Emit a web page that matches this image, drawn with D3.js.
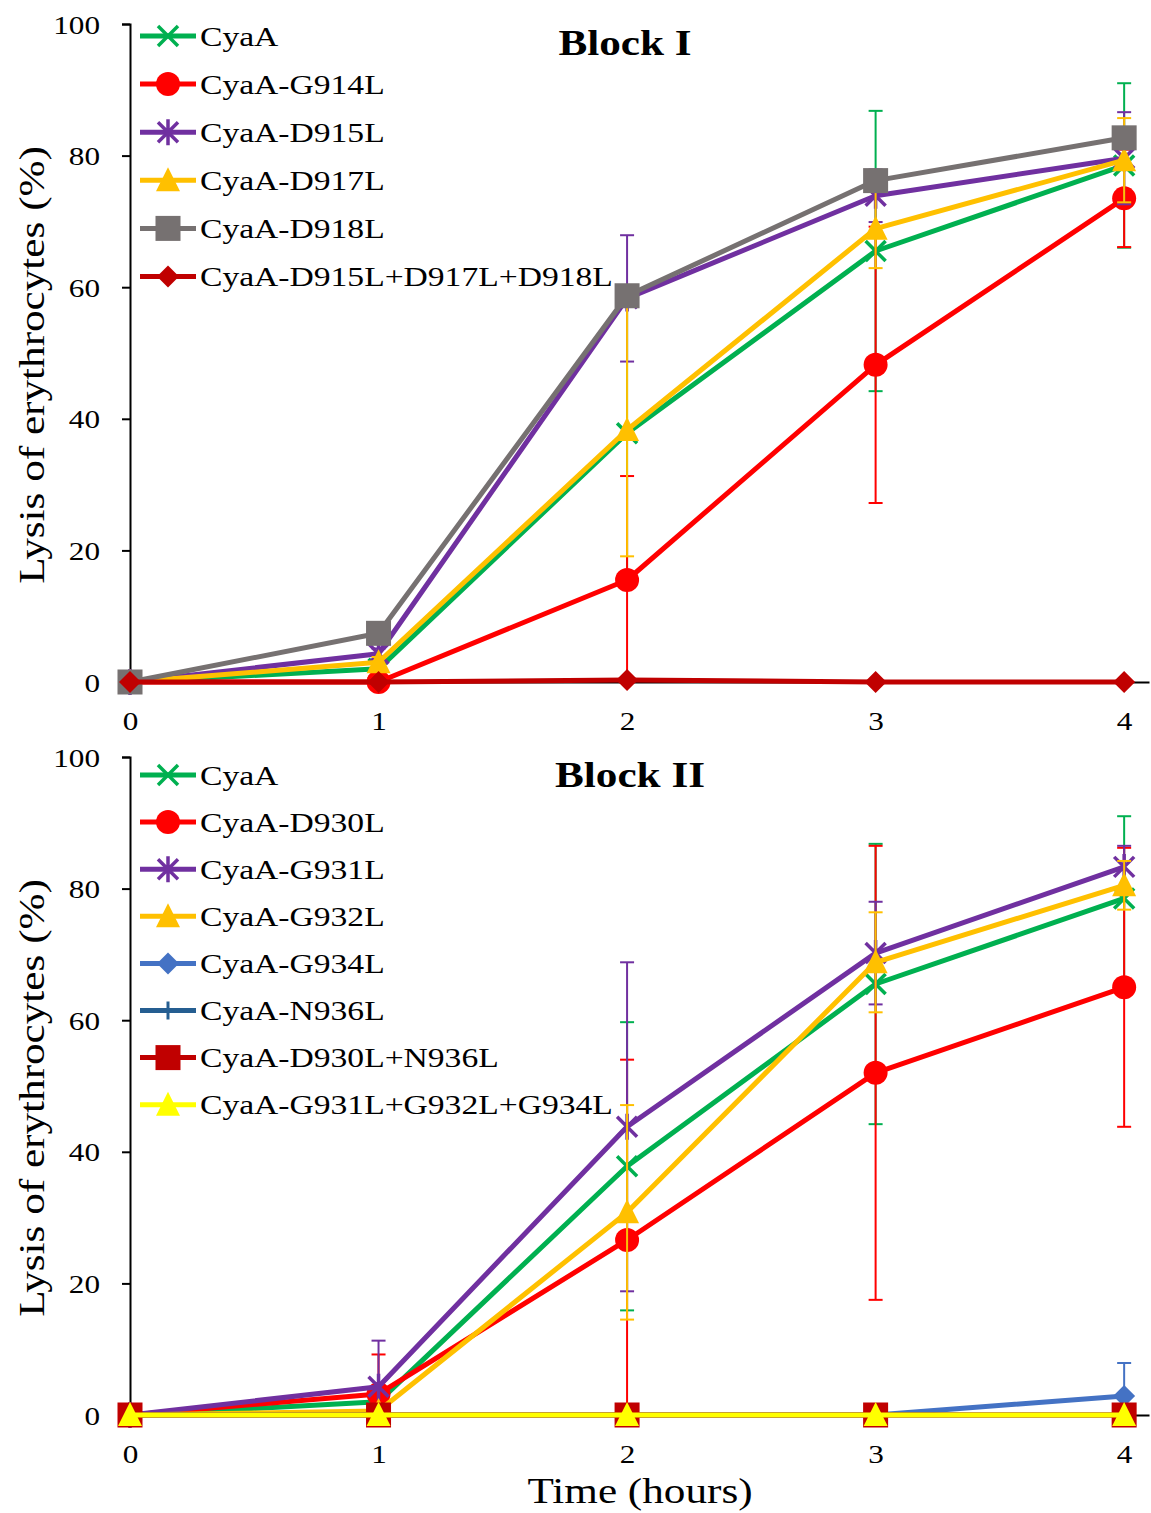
<!DOCTYPE html>
<html>
<head>
<meta charset="utf-8">
<script src="https://cdn.jsdelivr.net/npm/d3@7"></script>
<style>
  html, body { margin: 0; padding: 0; background: #fff; }
  svg { display: block; }
  text { font-family: "Liberation Serif", "Times New Roman", serif; fill: #000; }
</style>
</head>
<body>
<svg id="chart" width="1151" height="1513"></svg>
<script>
// ---- data ----------------------------------------------------------------
const hours = [0, 1, 2, 3, 4];
const yTicks = [0, 20, 40, 60, 80, 100];
const xTicks = [0, 1, 2, 3, 4];

// Block I (mean lysis %, standard deviation)
const blockINames = ["CyaA", "CyaA-G914L", "CyaA-D915L", "CyaA-D917L", "CyaA-D918L", "CyaA-D915L+D917L+D918L"];
const cyaA        = [0, 2.0, 37.8, 65.5, 78.5];
const cyaA_sd     = [0, 0.5, 21.9, 21.3, 12.5];
const g914l       = [0, 0.0, 15.5, 48.2, 73.5];
const g914l_sd    = [0, 0.0, 15.8, 21.0, 7.4];
const d915l       = [0, 4.3, 58.3, 73.9, 79.6];
const d915l_sd    = [0, 0.8, 9.6, 4.0, 7.0];
const d917l       = [0, 3.0, 38.3, 68.9, 79.3];
const d917l_sd    = [0, 0.8, 19.2, 6.0, 6.4];
const d918l       = [0, 7.4, 58.7, 76.2, 82.7];
const d918l_sd    = [0, 1.0, 1.5, 1.5, 1.5];
const d915_917_918 = [0, 0.0, 0.3, 0.0, 0.0];
const d915_917_918_sd = [0, 0, 0, 0, 0];

// Block II
const blockIINames = ["CyaA", "CyaA-D930L", "CyaA-G931L", "CyaA-G932L", "CyaA-G934L", "CyaA-N936L", "CyaA-D930L+N936L", "CyaA-G931L+G932L+G934L"];
const d930l       = [0, 3.2, 26.6, 52.0, 65.0];
const d930l_sd    = [0, 6.0, 27.4, 34.5, 21.2];
const g931l       = [0, 4.3, 43.8, 70.2, 83.3];
const g931l_sd    = [0, 7.0, 25.0, 7.8, 3.2];
const g932l       = [0, 0.6, 30.8, 68.8, 80.5];
const g932l_sd    = [0, 0.5, 16.3, 7.6, 3.7];
const g934l       = [0, 0, 0, 0, 2.9];
const g934l_sd    = [0, 0, 0, 0, 5.0];
const n936l       = [0, 0, 0, 0, 0];
const n936l_sd    = [0, 0, 0, 0, 0];
const d930_n936   = [0, 0, 0, 0, 0];
const d930_n936_sd = [0, 0, 0, 0, 0];
const g931_932_934 = [0, 0, 0, 0, 0];
const g931_932_934_sd = [0, 0, 0, 0, 0];

// ---- styling ---------------------------------------------------------------
const C = {
  green: "#00B050", red: "#FF0000", purple: "#7030A0", gold: "#FFC000",
  grey: "#767171", darkRed: "#C00000", blue: "#4472C4", navy: "#255E91", yellow: "#FFFF00"
};
const STRETCH = 1.2;

const panels = [
  {
    title: "Block I", titleX: 625, titleY: 55,
    top: 24, bottom: 682, legendY0: 36, legendStep: 48.1,
    series: [
      { name: blockINames[0], v: cyaA,  sd: cyaA_sd,  color: C.green,   marker: "x" },
      { name: blockINames[1], v: g914l, sd: g914l_sd, color: C.red,     marker: "circle" },
      { name: blockINames[2], v: d915l, sd: d915l_sd, color: C.purple,  marker: "star" },
      { name: blockINames[3], v: d917l, sd: d917l_sd, color: C.gold,    marker: "triangle" },
      { name: blockINames[4], v: d918l, sd: d918l_sd, color: C.grey,    marker: "square" },
      { name: blockINames[5], v: d915_917_918, sd: d915_917_918_sd, color: C.darkRed, marker: "diamond" }
    ]
  },
  {
    title: "Block II", titleX: 630, titleY: 787,
    top: 757, bottom: 1415, legendY0: 775, legendStep: 47.1,
    series: [
      { name: blockIINames[0], v: cyaA,  sd: cyaA_sd,  color: C.green,  marker: "x" },
      { name: blockIINames[1], v: d930l, sd: d930l_sd, color: C.red,    marker: "circle" },
      { name: blockIINames[2], v: g931l, sd: g931l_sd, color: C.purple, marker: "star" },
      { name: blockIINames[3], v: g932l, sd: g932l_sd, color: C.gold,   marker: "triangle" },
      { name: blockIINames[4], v: g934l, sd: g934l_sd, color: C.blue,   marker: "diamond" },
      { name: blockIINames[5], v: n936l, sd: n936l_sd, color: C.navy,   marker: "plus" },
      { name: blockIINames[6], v: d930_n936, sd: d930_n936_sd, color: C.darkRed, marker: "square" },
      { name: blockIINames[7], v: g931_932_934, sd: g931_932_934_sd, color: C.yellow, marker: "triangle" }
    ]
  }
];

const svg = d3.select("#chart");
const x = d3.scaleLinear().domain([0, 4.1]).range([130, 1149]);

function stretchedText(g, px, py, str, size, anchor, weight) {
  return g.append("text")
    .attr("transform", `translate(${px},${py}) scale(${STRETCH},1)`)
    .attr("text-anchor", anchor || "start")
    .style("font-size", size + "px")
    .style("font-weight", weight || "normal")
    .text(str);
}

function drawMarker(g, type, color, cx, cy) {
  const m = g.append("g").attr("transform", `translate(${cx},${cy})`);
  if (type === "circle") {
    m.append("circle").attr("r", 12).attr("fill", color);
  } else if (type === "square") {
    m.append("rect").attr("x", -12.5).attr("y", -12.5).attr("width", 25).attr("height", 25)
      .attr("fill", color);
  } else if (type === "diamond") {
    m.append("path").attr("d", "M0,-11 L11,0 L0,11 L-11,0Z").attr("fill", color);
  } else if (type === "triangle") {
    m.append("path").attr("d", "M0,-13 L12,11 L-12,11Z").attr("fill", color);
  } else if (type === "x") {
    m.append("path").attr("d", "M-10,-10 L10,10 M-10,10 L10,-10")
      .attr("stroke", color).attr("stroke-width", 3.5).attr("fill", "none");
  } else if (type === "star") {
    m.append("path").attr("d", "M-10,-10 L10,10 M-10,10 L10,-10 M0,-13 L0,13")
      .attr("stroke", color).attr("stroke-width", 3.5).attr("fill", "none");
  } else if (type === "plus") {
    m.append("path").attr("d", "M0,-9 L0,9")
      .attr("stroke", color).attr("stroke-width", 3).attr("fill", "none");
  }
}

panels.forEach(p => {
  const y = d3.scaleLinear().domain([0, 100]).range([p.bottom, p.top]);
  const g = svg.append("g");

  // y axis
  const yAxis = g.append("g").attr("transform", `translate(${x(0)},0)`)
    .call(d3.axisLeft(y).tickValues(yTicks).tickFormat(d3.format("d"))
      .tickSizeOuter(0).tickSize(8).tickPadding(0));
  yAxis.select(".domain").attr("stroke", "#000").attr("stroke-width", 2);
  yAxis.selectAll(".tick line").attr("stroke", "#000").attr("stroke-width", 2);
  yAxis.selectAll(".tick text")
    .attr("x", 0).attr("dy", null)
    .attr("dominant-baseline", "central")
    .attr("transform", `translate(-30,0) scale(${STRETCH},1)`)
    .style("font-size", "26px")
    .style("font-family", "'Liberation Serif', 'Times New Roman', serif")
    .attr("fill", "#000");

  // x axis
  const xAxis = g.append("g").attr("transform", `translate(0,${y(0)})`)
    .call(d3.axisBottom(x).tickValues(xTicks).tickFormat(d3.format("d"))
      .tickSize(0).tickSizeOuter(0).tickPadding(0));
  xAxis.select(".domain").attr("stroke", "#000").attr("stroke-width", 2);
  xAxis.selectAll(".tick text")
    .attr("y", 0).attr("dy", null)
    .attr("dominant-baseline", "central")
    .attr("transform", `translate(0,39) scale(${STRETCH},1)`)
    .style("font-size", "26px")
    .style("font-family", "'Liberation Serif', 'Times New Roman', serif")
    .attr("fill", "#000");

  // y axis title
  const yc = (p.top + p.bottom) / 2 + 12;
  g.append("text")
    .attr("transform", `translate(32,${yc}) rotate(-90) scale(${STRETCH},1)`)
    .attr("text-anchor", "middle")
    .attr("dominant-baseline", "central")
    .style("font-size", "36px")
    .text("Lysis of erythrocytes (%)");

  // series: line, error bars, then markers
  const line = d3.line().x((d, i) => x(hours[i])).y(d => y(d));
  p.series.forEach(s => {
    const sg = g.append("g");
    sg.append("path").datum(s.v).attr("d", line)
      .attr("fill", "none").attr("stroke", s.color).attr("stroke-width", 5)
      .attr("stroke-linejoin", "round");
    s.v.forEach((v, i) => {
      const sd = s.sd[i];
      if (sd > 0) {
        const cx = x(hours[i]);
        const lo = Math.max(0, v - sd), hi = v + sd;
        sg.append("line").attr("x1", cx).attr("x2", cx).attr("y1", y(lo)).attr("y2", y(hi))
          .attr("stroke", s.color).attr("stroke-width", 2);
        sg.append("line").attr("x1", cx - 7).attr("x2", cx + 7).attr("y1", y(hi)).attr("y2", y(hi))
          .attr("stroke", s.color).attr("stroke-width", 2);
        if (v - sd > 0) {
          sg.append("line").attr("x1", cx - 7).attr("x2", cx + 7).attr("y1", y(lo)).attr("y2", y(lo))
            .attr("stroke", s.color).attr("stroke-width", 2);
        }
      }
    });
    s.v.forEach((v, i) => drawMarker(sg, s.marker, s.color, x(hours[i]), y(v)));
  });

  // legend
  p.series.forEach((s, i) => {
    const ly = p.legendY0 + i * p.legendStep;
    const lg = g.append("g");
    lg.append("line").attr("x1", 140).attr("x2", 196).attr("y1", ly).attr("y2", ly)
      .attr("stroke", s.color).attr("stroke-width", 5);
    drawMarker(lg, s.marker, s.color, 168, ly);
    stretchedText(lg, 200, ly, s.name, 28, "start").attr("dominant-baseline", "central");
  });

  // panel title
  stretchedText(g, p.titleX, p.titleY, p.title, 36, "middle", "bold");
});

// x axis title
stretchedText(svg, 640, 1503, "Time (hours)", 36, "middle");
</script>
</body>
</html>
